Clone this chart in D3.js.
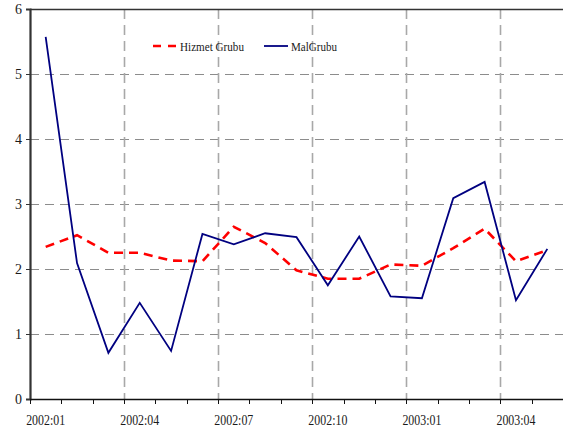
<!DOCTYPE html>
<html>
<head>
<meta charset="utf-8">
<script src="https://cdn.jsdelivr.net/npm/d3@7"></script>
<style>
  body { margin: 0; background: #fff; }
  svg text { font-family: "Liberation Serif", "DejaVu Serif", serif; fill: #1a1a1a; }
</style>
</head>
<body>
<div id="container"></div>
<script>
// months shown on the x axis
var months = ["2002:01","2002:02","2002:03","2002:04","2002:05","2002:06","2002:07","2002:08","2002:09",
              "2002:10","2002:11","2002:12","2003:01","2003:02","2003:03","2003:04","2003:05"];
var tickLabels = ["2002:01","2002:04","2002:07","2002:10","2003:01","2003:04"];
var yTicks = [0, 1, 2, 3, 4, 5, 6];

var hizmet = [2.34, 2.52, 2.25, 2.25, 2.13, 2.12, 2.65, 2.40, 1.98, 1.85, 1.85, 2.07, 2.05, 2.32, 2.62, 2.12, 2.29];
var mal    = [5.57, 2.09, 0.71, 1.48, 0.74, 2.54, 2.38, 2.55, 2.49, 1.75, 2.50, 1.58, 1.55, 3.09, 3.34, 1.52, 2.31];

var series = [
    {name: "Hizmet Grubu", values: hizmet, color: "#ff0000", width: 2.6, dash: "9,6"},
    {name: "MalGrubu", values: mal, color: "#000080", width: 1.8, dash: null}
];

(function(){
    var width = 563, height = 435;
    var left = 30, right = 563, top = 9, bottom = 399;

    var svg = d3.select("#container").append("svg")
        .attr("width", width)
        .attr("height", height);

    var x = d3.scaleBand().domain(months).range([left, right]).paddingInner(0).paddingOuter(0);
    var y = d3.scaleLinear().domain([0, 6]).range([bottom, top]);

    //horizontal grid
    svg.append("g").selectAll("line")
        .data(yTicks.filter(function(d){ return d > 0 && d < 6; }))
        .enter().append("line")
        .attr("x1", left).attr("x2", right)
        .attr("y1", function(d){ return y(d) + 0.5; })
        .attr("y2", function(d){ return y(d) + 0.5; })
        .style("stroke", "#8c8c8c")
        .style("stroke-width", 1)
        .style("stroke-dasharray", "9,6");

    //vertical grid at start of each quarter
    svg.append("g").selectAll("line")
        .data(tickLabels.slice(1))
        .enter().append("line")
        .attr("x1", function(d){ return Math.round(x(d)) + 0.5; })
        .attr("x2", function(d){ return Math.round(x(d)) + 0.5; })
        .attr("y1", top).attr("y2", bottom)
        .style("stroke", "#a8a8a8")
        .style("stroke-width", 1.6)
        .style("stroke-dasharray", "10,6");

    //top line
    svg.append("line")
        .attr("x1", left).attr("x2", right)
        .attr("y1", top + 0.5).attr("y2", top + 0.5)
        .style("stroke", "#333").style("stroke-width", 1.5);

    //y axis
    var yAxis = d3.axisLeft(y).tickValues(yTicks).tickSize(4).tickFormat(d3.format("d"));
    var ga = svg.append("g").attr("transform", "translate(" + left + ",0)").call(yAxis);
    ga.select(".domain").style("stroke", "#333").style("stroke-width", 2.2);
    ga.selectAll(".tick line").style("stroke", "#333");
    ga.selectAll(".tick text").style("font-size", "14px").attr("x", -8);

    //x axis, ticks at month boundaries
    var boundaries = months.map(function(m){ return x(m); });
    var gx = svg.append("g");
    gx.append("line")
        .attr("x1", left).attr("x2", right)
        .attr("y1", bottom + 0.5).attr("y2", bottom + 0.5)
        .style("stroke", "#111").style("stroke-width", 1.5);
    gx.selectAll(".xt").data(boundaries).enter().append("line")
        .attr("class", "xt")
        .attr("x1", function(d){ return Math.round(d) + 0.5; })
        .attr("x2", function(d){ return Math.round(d) + 0.5; })
        .attr("y1", bottom).attr("y2", bottom + 5)
        .style("stroke", "#111").style("stroke-width", 1);
    gx.selectAll("text").data(tickLabels).enter().append("text")
        .attr("x", function(d){ return x(d) + x.bandwidth() / 2; })
        .attr("y", 425)
        .attr("text-anchor", "middle")
        .style("font-size", "14px")
        .attr("textLength", 39)
        .attr("lengthAdjust", "spacingAndGlyphs")
        .text(function(d){ return d; });

    //lines
    var line = d3.line()
        .x(function(d, i){ return x(months[i]) + x.bandwidth() / 2; })
        .y(function(d){ return y(d); });

    svg.selectAll(".series").data(series).enter().append("path")
        .attr("class", "series")
        .attr("d", function(d){ return line(d.values); })
        .style("fill", "none")
        .style("stroke", function(d){ return d.color; })
        .style("stroke-width", function(d){ return d.width; })
        .style("stroke-dasharray", function(d){ return d.dash; })
        .style("stroke-linejoin", "miter");

    //legend
    var legendX = [153, 264];
    var lg = svg.selectAll(".legend").data(series).enter().append("g")
        .attr("class", "legend")
        .attr("transform", function(d, i){ return "translate(" + legendX[i] + ",46)"; });
    lg.append("line")
        .attr("x1", 0).attr("x2", 24).attr("y1", 0).attr("y2", 0)
        .style("stroke", function(d){ return d.color; })
        .style("stroke-width", function(d){ return d.width; })
        .style("stroke-dasharray", function(d){ return d.dash ? "8,7" : null; });
    lg.append("text")
        .attr("x", 27).attr("y", 5)
        .style("font-size", "13.5px")
        .attr("textLength", function(d, i){ return i === 0 ? 64 : 46; })
        .attr("lengthAdjust", "spacingAndGlyphs")
        .text(function(d){ return d.name; });
})();
</script>
</body>
</html>
